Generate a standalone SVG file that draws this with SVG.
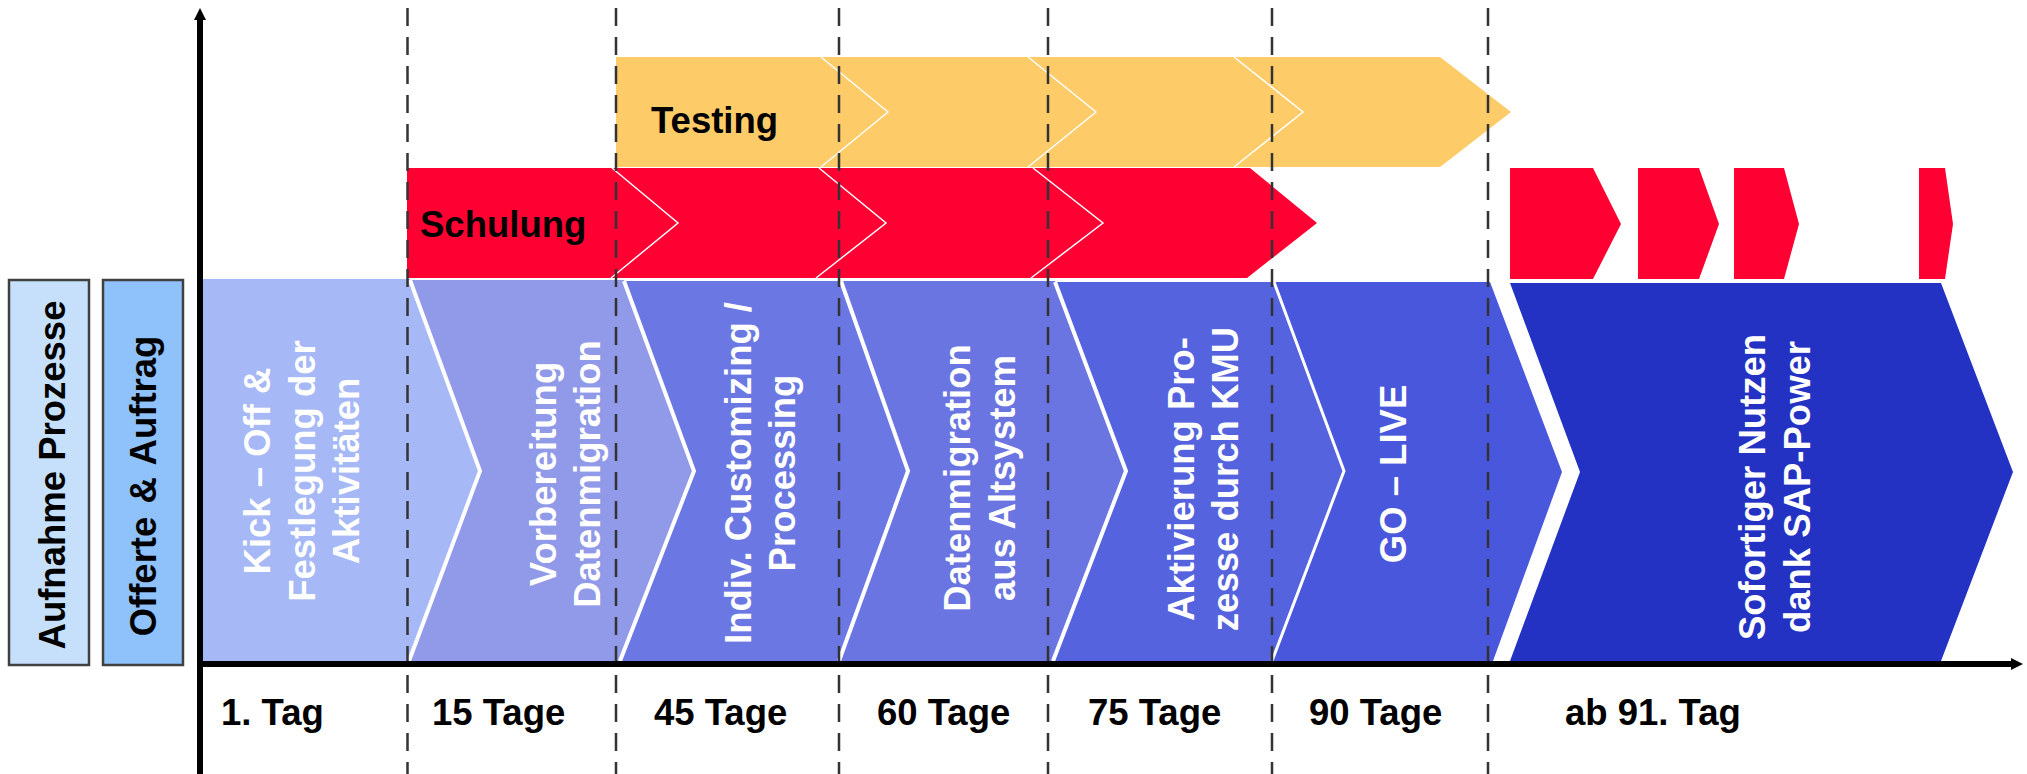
<svg xmlns="http://www.w3.org/2000/svg" width="2027" height="774" viewBox="0 0 2027 774">
  <defs>
    <style>
      text { font-family: "Liberation Sans", Arial, sans-serif; font-weight: bold; font-size: 36.5px; }
      .dark { fill: #000000; }
      .light { fill: #FFFFFF; }
      .sep { fill: none; stroke: #FFFFFF; stroke-width: 4; stroke-linejoin: miter; }
      .thin { fill: none; stroke: #FFFFFF; stroke-width: 1.5; }
      .guide { fill: none; stroke: #333333; stroke-width: 2.5; stroke-dasharray: 18 11; }
      .axis { fill: none; stroke: #000000; stroke-width: 6; }
      .box { stroke: #404040; stroke-width: 2.5; }
      .red { fill: #FF0033; }
    </style>
    <marker id="arrow" markerUnits="userSpaceOnUse" markerWidth="12" markerHeight="12" refX="0" refY="6" orient="auto" viewBox="0 0 12 12">
      <path d="M0,0 L12,6 L0,12 z" fill="#000000"/>
    </marker>
  </defs>
  <rect x="0" y="0" width="2027" height="774" fill="#FFFFFF"/>

  <g id="aufnahme-prozesse">
    <rect class="box" x="9" y="280" width="80" height="385" fill="#C6E0FB"/>
    <text class="dark" text-anchor="middle" transform="translate(65,475) rotate(-90)">Aufnahme Prozesse</text>
  </g>
  <g id="offerte-auftrag">
    <rect class="box" x="103" y="280" width="80" height="385" fill="#8FC1FA"/>
    <text class="dark" text-anchor="middle" word-spacing="3" transform="translate(156,486) rotate(-90)">Offerte &amp; Auftrag</text>
  </g>

  <g id="testing">
    <polygon points="616,57 1440,57 1511,112 1440,167 616,167" fill="#FECB69"/>
    <polyline class="thin" points="821,57 888,112 821,167"/>
    <polyline class="thin" points="1028,57 1096,112 1028,167"/>
    <polyline class="thin" points="1234,57 1303,112 1234,167"/>
    <text class="dark" x="651" y="133">Testing</text>
  </g>

  <g id="schulung">
    <polygon points="407,168 1250,168 1317,223 1247,278 407,278" fill="#FF0033"/>
    <polyline class="thin" points="612,168 678,223 611,278"/>
    <polyline class="thin" points="819,168 886,223 816,278"/>
    <polyline class="thin" points="1033,168 1103,223 1031,278"/>
    <text class="dark" x="420" y="237">Schulung</text>
  </g>

  <g id="schulung-fortsetzung">
    <polygon class="red" points="1510,168 1593,168 1621,224 1593,279 1510,279"/>
    <polygon class="red" points="1638,168 1699,168 1719,224 1699,279 1638,279"/>
    <polygon class="red" points="1734,168 1784,168 1799,224 1784,279 1734,279"/>
    <polygon class="red" points="1919,168 1945,168 1953,224 1945,279 1919,279"/>
  </g>

  <g id="kick-off">
    <polygon points="203,279 410,279 480,471 409,661 203,661" fill="#A6B8F6"/>
    <text class="light" text-anchor="middle" transform="translate(270,471) rotate(-90)"><tspan x="0" dy="0">Kick – Off &amp;</tspan><tspan x="0" dy="44.5">Festlegung der</tspan><tspan x="0" dy="44.5">Aktivitäten</tspan></text>
  </g>

  <g id="vorbereitung">
    <polygon points="410,280 624,280 694,471 620,661 409,661 480,471" fill="#9199E9"/>
    <polyline class="sep" points="410,280 480,471 409,661"/>
    <text class="light" text-anchor="middle" transform="translate(556,474) rotate(-90)"><tspan x="0" dy="0">Vorbereitung</tspan><tspan x="0" dy="44">Datenmigration</tspan></text>
  </g>

  <g id="customizing">
    <polygon points="624,281 841,281 908,471 839,661 620,661 694,471" fill="#6B78E3"/>
    <polyline class="sep" points="624,281 694,471 620,661"/>
    <text class="light" text-anchor="middle" transform="translate(751,473) rotate(-90)"><tspan x="0" dy="0">Indiv. Customizing /</tspan><tspan x="0" dy="44">Processing</tspan></text>
  </g>

  <g id="datenmigration">
    <polygon points="841,281 1055,281 1126,471 1053,661 839,661 908,471" fill="#6A75E1"/>
    <polyline class="sep" points="841,281 908,471 839,661"/>
    <text class="light" text-anchor="middle" transform="translate(970,478) rotate(-90)"><tspan x="0" dy="0">Datenmigration</tspan><tspan x="0" dy="45">aus Altsystem</tspan></text>
  </g>

  <g id="aktivierung">
    <polygon points="1055,282 1274,282 1344,471 1272,661 1053,661 1126,471" fill="#5663DE"/>
    <polyline class="sep" points="1055,282 1126,471 1053,661"/>
    <text class="light" text-anchor="middle" transform="translate(1194,479) rotate(-90)"><tspan x="0" dy="0">Aktivierung Pro-</tspan><tspan x="0" dy="44">zesse durch KMU</tspan></text>
  </g>

  <g id="go-live">
    <polygon points="1274,282 1490,282 1562,472 1493,661 1272,661 1344,471" fill="#4957DC"/>
    <polyline class="sep" style="stroke-width:3" points="1274,282 1344,471 1272,661"/>
    <text class="light" text-anchor="middle" transform="translate(1406,474) rotate(-90)">GO – LIVE</text>
  </g>

  <g id="sofortiger-nutzen">
    <polygon points="1510,283 1941,283 2013,472 1941,661 1510,661 1580,472" fill="#2432C4"/>
    <text class="light" text-anchor="middle" transform="translate(1765,487) rotate(-90)"><tspan x="0" dy="0">Sofortiger Nutzen</tspan><tspan x="0" dy="45">dank SAP-Power</tspan></text>
  </g>

  <g id="connectors">
    <line class="guide" x1="407.5" y1="8" x2="407.5" y2="774"/>
    <line class="guide" x1="616" y1="8" x2="616" y2="774"/>
    <line class="guide" x1="839" y1="8" x2="839" y2="774"/>
    <line class="guide" x1="1048" y1="8" x2="1048" y2="774"/>
    <line class="guide" x1="1272" y1="8" x2="1272" y2="774"/>
    <line class="guide" x1="1488" y1="8" x2="1488" y2="774"/>
    <line class="axis" x1="200" y1="774" x2="200" y2="20" marker-end="url(#arrow)"/>
    <line class="axis" x1="197" y1="664" x2="2011" y2="664" marker-end="url(#arrow)"/>
  </g>

  <g id="zeitachse">
    <text class="dark" x="221" y="725">1. Tag</text>
    <text class="dark" x="432" y="725">15 Tage</text>
    <text class="dark" x="654" y="725">45 Tage</text>
    <text class="dark" x="877" y="725">60 Tage</text>
    <text class="dark" x="1088" y="725">75 Tage</text>
    <text class="dark" x="1309" y="725">90 Tage</text>
    <text class="dark" x="1565" y="725">ab 91. Tag</text>
  </g>
</svg>
